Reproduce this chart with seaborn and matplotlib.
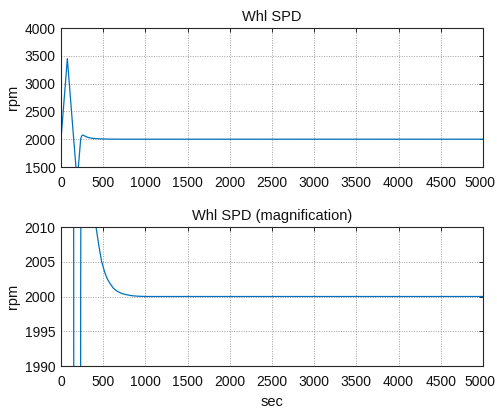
import matplotlib
matplotlib.use("Agg")
import matplotlib.pyplot as plt
import matplotlib.transforms as mtransforms
import seaborn as sns
import pandas as pd

# Data
time_sec = [0, 25, 50, 75, 100, 125, 150, 175, 185, 195, 205, 220, 233, 245, 257,
            270, 290, 320, 350, 380, 415, 450, 482, 520, 550, 585, 620, 655, 690,
            725, 760, 800, 850, 900, 1000, 2000, 3000, 4000, 5000]
whl_spd = [2000, 2480, 2960, 3450, 2970, 2490, 2010, 1540, 1380, 1340, 1500, 1760, 2000,
           2060, 2075, 2068, 2050, 2032, 2022, 2015, 2010, 2007.2, 2005, 2003.4, 2002.5,
           2001.8, 2001.2, 2000.85, 2000.6, 2000.42, 2000.3, 2000.2, 2000.1, 2000.05,
           2000, 2000, 2000, 2000, 2000]

titles = ["Whl SPD", "Whl SPD (magnification)"]
ylims = [(1500, 4000), (1990, 2010)]
yticks = [[1500, 2000, 2500, 3000, 3500, 4000], [1990, 1995, 2000, 2005, 2010]]
xticks = [0, 500, 1000, 1500, 2000, 2500, 3000, 3500, 4000, 4500, 5000]

df = pd.DataFrame({"sec": time_sec, "rpm": whl_spd})

sns.set_theme(style="white")
plt.rcParams["font.family"] = ["Liberation Sans", "DejaVu Sans"]

fig = plt.figure(figsize=(4.97, 4.11), dpi=100)
W, H = 497, 411
positions = [(61, 28, 483, 167), (61, 227, 483, 366)]
line_color = "#0072BD"
edge = "#262626"
txt = "#111111"

for i, (x0, y0, x1, y1) in enumerate(positions):
    ax = fig.add_axes([x0 / W, 1 - y1 / H, (x1 - x0) / W, (y1 - y0) / H])
    sns.lineplot(data=df, x="sec", y="rpm", ax=ax, color=line_color, linewidth=0.9)
    ax.set_xlim(0, 5000)
    ax.set_ylim(*ylims[i])
    ax.set_xticks(xticks)
    ax.set_yticks(yticks[i])
    ax.grid(True, linestyle=(0, (1, 1.5)), color="#a0a0a0", linewidth=0.7)
    ax.tick_params(direction="in", length=3, width=0.7, top=True, right=True,
                   labelsize=10, colors=edge, labelcolor=txt)
    ax.tick_params(axis="y", pad=4)
    ax.tick_params(axis="x", pad=6.5)
    for s in ax.spines.values():
        s.set_visible(True)
        s.set_color(edge)
        s.set_linewidth(0.8)
    ax.set_title(titles[i], fontsize=10.5, pad=5, color=txt)
    ax.set_ylabel("rpm", fontsize=10.5, labelpad=3, color=txt)
    if i == 1:
        ax.set_xlabel("sec", fontsize=10.5, labelpad=4, color=txt)
    else:
        ax.set_xlabel("")
    # keep the last tick label inside the canvas, as in the reference
    last = ax.get_xticklabels()[-1]
    last.set_transform(last.get_transform() +
                       mtransforms.ScaledTranslation(-3 / 100, 0, fig.dpi_scale_trans))

fig.savefig("out.png", dpi=100, facecolor="white")
